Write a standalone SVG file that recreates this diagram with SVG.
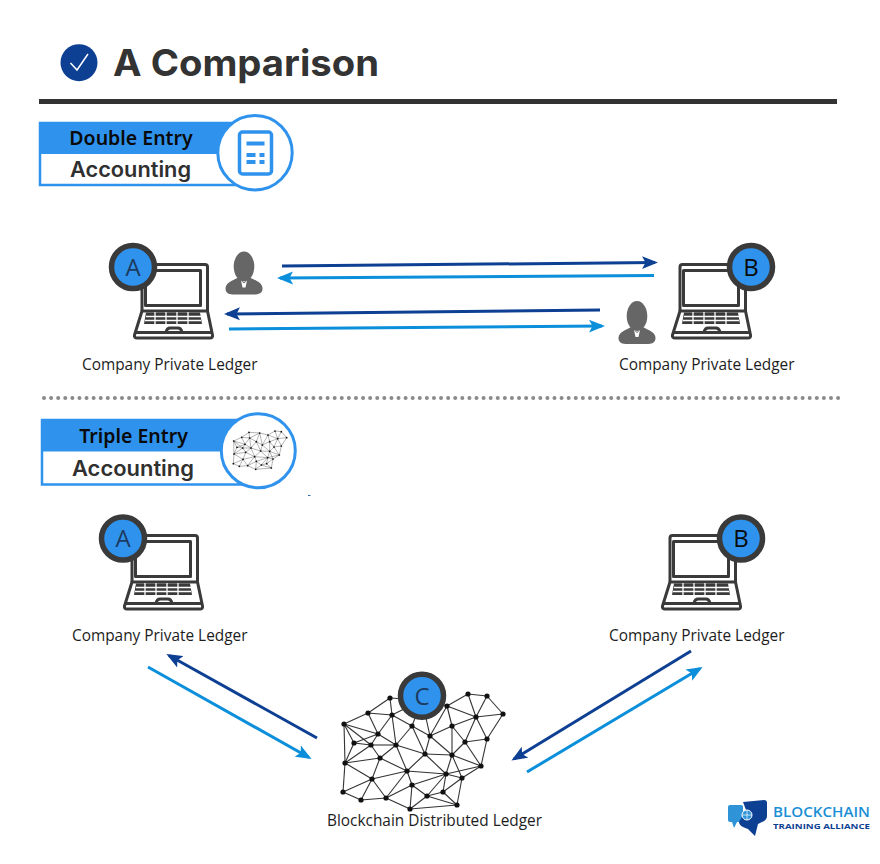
<svg xmlns="http://www.w3.org/2000/svg" width="880" height="864" viewBox="0 0 880 864">
<style>
.lbl{font-family:"Open Sans","Liberation Sans",sans-serif;font-size:15.4px;fill:#1d1d1d}
.head{font-family:"Noto Sans","Open Sans",sans-serif;font-size:19.5px;font-weight:600;fill:#0a0a0a;text-anchor:middle}
.acc{font-family:Inter,"Open Sans",sans-serif;font-size:21px;font-weight:600;fill:#303030;text-anchor:middle}
.let{font-family:"Open Sans","Liberation Sans",sans-serif;font-size:24px;text-anchor:middle}
.ring{fill:#2f93ee;stroke:#3a3a3a;stroke-width:5.5}
.dark{stroke:#0d3f92;stroke-width:3;fill:none}
.light{stroke:#0b8fdb;stroke-width:3;fill:none}
.lap{fill:none;stroke:#3a3a3a;stroke-width:3;stroke-linejoin:round}
.person{fill:#666}
#mesh line{stroke:#333;stroke-width:1.1}
#mesh circle{fill:#111}
</style>
<defs>
<marker id="ad" markerUnits="userSpaceOnUse" markerWidth="17" markerHeight="14" refX="13" refY="7" orient="auto"><path d="M0 .5L16 7L0 13.500L3.500 7Z" fill="#0d3f92"/></marker>
<marker id="al" markerUnits="userSpaceOnUse" markerWidth="17" markerHeight="14" refX="13" refY="7" orient="auto"><path d="M0 .5L16 7L0 13.500L3.500 7Z" fill="#0b8fdb"/></marker>
<symbol id="laptop" overflow="visible" width="80" height="78">
<path class="lap" d="M8 48V4Q8 1.500 10.500 1.500H71Q73.500 1.500 73.500 4V49"/>
<rect class="lap" x="11.500" y="7.500" width="55" height="35"/>
<path class="lap" d="M8 48H73.500L78.500 72Q79 75 76 75H3Q0 75 .5 72Z"/>
<path d="M12 49.500H66L68 61H10Z" fill="#3a3a3a"/>
<path d="M12 53.500H67M11 57.500H67M21 49V61M32 49V61M43 49V61M54 49V61" stroke="#fff" stroke-width="1.300"/>
<path class="lap" stroke-width="2" d="M32 69Q33 65 36 65H44Q47 65 48 69M1 69.500H78"/>
</symbol>
<symbol id="person" overflow="visible" width="38" height="44">
<ellipse cx="18.500" cy="15" rx="10.300" ry="15"/>
<path d="M0 37C0 31 7 29 13 26L18.500 31L24 26C30 29 37 31 37 37C37 42 33 43 28 43H9C4 43 0 42 0 37Z"/>
<path d="M15.500 29L18.500 32L21.500 29L20 36H17Z" fill="#fff"/>
</symbol>
<g id="mesh">
<line x1="344" y1="724" x2="368" y2="713"/><line x1="368" y1="713" x2="390" y2="698"/><line x1="390" y1="698" x2="392" y2="715"/><line x1="368" y1="713" x2="392" y2="715"/><line x1="392" y1="715" x2="412" y2="726"/><line x1="392" y1="715" x2="422" y2="700"/><line x1="390" y1="698" x2="422" y2="700"/><line x1="422" y1="700" x2="447" y2="706"/><line x1="422" y1="700" x2="412" y2="726"/><line x1="422" y1="700" x2="430" y2="736"/><line x1="368" y1="713" x2="378" y2="734"/><line x1="392" y1="715" x2="378" y2="734"/><line x1="392" y1="715" x2="396" y2="745"/><line x1="412" y1="726" x2="396" y2="745"/><line x1="412" y1="726" x2="430" y2="736"/><line x1="412" y1="726" x2="425" y2="754"/><line x1="430" y1="736" x2="447" y2="706"/><line x1="447" y1="706" x2="468" y2="694"/><line x1="468" y1="694" x2="487" y2="696"/><line x1="487" y1="696" x2="503" y2="714"/><line x1="468" y1="694" x2="476" y2="717"/><line x1="487" y1="696" x2="476" y2="717"/><line x1="503" y1="714" x2="476" y2="717"/><line x1="503" y1="714" x2="487" y2="739"/><line x1="476" y1="717" x2="487" y2="739"/><line x1="476" y1="717" x2="452" y2="726"/><line x1="476" y1="717" x2="447" y2="706"/><line x1="476" y1="717" x2="465" y2="742"/><line x1="447" y1="706" x2="452" y2="726"/><line x1="452" y1="726" x2="430" y2="736"/><line x1="452" y1="726" x2="465" y2="742"/><line x1="452" y1="726" x2="452" y2="755"/><line x1="430" y1="736" x2="425" y2="754"/><line x1="430" y1="736" x2="452" y2="755"/><line x1="465" y1="742" x2="487" y2="739"/><line x1="465" y1="742" x2="452" y2="755"/><line x1="465" y1="742" x2="481" y2="766"/><line x1="487" y1="739" x2="481" y2="766"/><line x1="452" y1="755" x2="481" y2="766"/><line x1="452" y1="755" x2="425" y2="754"/><line x1="452" y1="755" x2="446" y2="774"/><line x1="452" y1="755" x2="462" y2="778"/><line x1="425" y1="754" x2="396" y2="745"/><line x1="425" y1="754" x2="407" y2="771"/><line x1="425" y1="754" x2="446" y2="774"/><line x1="481" y1="766" x2="446" y2="774"/><line x1="481" y1="766" x2="462" y2="778"/><line x1="446" y1="774" x2="462" y2="778"/><line x1="446" y1="774" x2="407" y2="771"/><line x1="446" y1="774" x2="412" y2="785"/><line x1="446" y1="774" x2="443" y2="792"/><line x1="446" y1="774" x2="427" y2="796"/><line x1="462" y1="778" x2="443" y2="792"/><line x1="462" y1="778" x2="457" y2="805"/><line x1="443" y1="792" x2="427" y2="796"/><line x1="443" y1="792" x2="457" y2="805"/><line x1="427" y1="796" x2="457" y2="805"/><line x1="427" y1="796" x2="412" y2="785"/><line x1="427" y1="796" x2="410" y2="809"/><line x1="457" y1="805" x2="410" y2="809"/><line x1="412" y1="785" x2="407" y2="771"/><line x1="412" y1="785" x2="386" y2="798"/><line x1="412" y1="785" x2="410" y2="809"/><line x1="386" y1="798" x2="410" y2="809"/><line x1="386" y1="798" x2="361" y2="800"/><line x1="386" y1="798" x2="372" y2="779"/><line x1="386" y1="798" x2="407" y2="771"/><line x1="361" y1="800" x2="343" y2="792"/><line x1="361" y1="800" x2="372" y2="779"/><line x1="343" y1="792" x2="372" y2="779"/><line x1="343" y1="792" x2="345" y2="763"/><line x1="345" y1="763" x2="372" y2="779"/><line x1="345" y1="763" x2="380" y2="758"/><line x1="345" y1="763" x2="371" y2="745"/><line x1="345" y1="763" x2="354" y2="743"/><line x1="345" y1="763" x2="344" y2="724"/><line x1="344" y1="724" x2="354" y2="743"/><line x1="344" y1="724" x2="371" y2="745"/><line x1="344" y1="724" x2="378" y2="734"/><line x1="354" y1="743" x2="371" y2="745"/><line x1="354" y1="743" x2="378" y2="734"/><line x1="378" y1="734" x2="371" y2="745"/><line x1="378" y1="734" x2="396" y2="745"/><line x1="371" y1="745" x2="396" y2="745"/><line x1="371" y1="745" x2="380" y2="758"/><line x1="396" y1="745" x2="380" y2="758"/><line x1="396" y1="745" x2="407" y2="771"/><line x1="380" y1="758" x2="372" y2="779"/><line x1="380" y1="758" x2="407" y2="771"/><line x1="372" y1="779" x2="407" y2="771"/>
<circle r="2.600" cx="344" cy="724"/><circle r="2.600" cx="368" cy="713"/><circle r="2.600" cx="390" cy="698"/><circle r="2.600" cx="392" cy="715"/><circle r="2.600" cx="422" cy="700"/><circle r="2.600" cx="412" cy="726"/><circle r="2.600" cx="447" cy="706"/><circle r="2.600" cx="468" cy="694"/><circle r="2.600" cx="487" cy="696"/><circle r="2.600" cx="503" cy="714"/><circle r="2.600" cx="476" cy="717"/><circle r="2.600" cx="452" cy="726"/><circle r="2.600" cx="430" cy="736"/><circle r="2.600" cx="378" cy="734"/><circle r="2.600" cx="354" cy="743"/><circle r="2.600" cx="371" cy="745"/><circle r="2.600" cx="396" cy="745"/><circle r="2.600" cx="487" cy="739"/><circle r="2.600" cx="465" cy="742"/><circle r="2.600" cx="452" cy="755"/><circle r="2.600" cx="425" cy="754"/><circle r="2.600" cx="380" cy="758"/><circle r="2.600" cx="345" cy="763"/><circle r="2.600" cx="481" cy="766"/><circle r="2.600" cx="407" cy="771"/><circle r="2.600" cx="446" cy="774"/><circle r="2.600" cx="462" cy="778"/><circle r="2.600" cx="372" cy="779"/><circle r="2.600" cx="412" cy="785"/><circle r="2.600" cx="443" cy="792"/><circle r="2.600" cx="427" cy="796"/><circle r="2.600" cx="343" cy="792"/><circle r="2.600" cx="361" cy="800"/><circle r="2.600" cx="386" cy="798"/><circle r="2.600" cx="410" cy="809"/><circle r="2.600" cx="457" cy="805"/>
</g>
</defs>
<rect width="880" height="864" fill="#fff"/>

<g id="title">
<circle cx="79" cy="62.700" r="18.500" fill="#0d3f92"/>
<path d="M70.500 63L77 70L88 54" fill="none" stroke="#fff" stroke-width="1.500"/>
<text x="113" y="76" font-family="Inter,'Open Sans',sans-serif" font-size="37" font-weight="700" fill="#333" textLength="266" lengthAdjust="spacingAndGlyphs">A Comparison</text>
<rect x="39" y="99" width="798" height="5" fill="#333"/>
</g>

<g id="double-entry-badge">
<rect x="40" y="123" width="200" height="62" fill="#fff" stroke="#2f93ee" stroke-width="2.500"/>
<rect x="39" y="122" width="200" height="32" fill="#2f93ee"/>
<text class="head" x="131" y="145">Double Entry</text>
<text class="acc" x="130.500" y="177" textLength="121" lengthAdjust="spacingAndGlyphs">Accounting</text>
<circle cx="255" cy="152.700" r="37.200" fill="#fff" stroke="#2f93ee" stroke-width="3"/>
<rect x="239.500" y="132" width="32" height="42" rx="3" fill="none" stroke="#2f93ee" stroke-width="3.500"/>
<path d="M246.500 141.500H264.500V145.500H246.500ZM246.500 153H255.500V157H246.500ZM259.500 153H264.500V157H259.500ZM246.500 160H255.500V164H246.500ZM259.500 160H264.500V164H259.500Z" fill="#2f93ee"/>
</g>

<g id="triple-entry-badge">
<rect x="42" y="420" width="205" height="64.500" fill="#fff" stroke="#2f93ee" stroke-width="2.500"/>
<rect x="41" y="419" width="205" height="32.500" fill="#2f93ee"/>
<text class="head" x="133.500" y="443">Triple Entry</text>
<text class="acc" x="133" y="475.500" textLength="122" lengthAdjust="spacingAndGlyphs">Accounting</text>
<circle cx="258.300" cy="450.700" r="37" fill="#fff" stroke="#2f93ee" stroke-width="3"/>
<use href="#mesh" transform="translate(233 431) scale(.3333) translate(-342 -694)"/>
<rect x="308" y="495" width="2.500" height="1" fill="#2f6fb0"/>
</g>

<g id="node-a1">
<use href="#laptop" x="134" y="263"/>
<circle class="ring" cx="133" cy="267" r="21.500"/>
<text class="let" x="133" y="276" fill="#1d3a5f">A</text>
<text class="lbl" x="82" y="370">Company Private Ledger</text>
</g>
<g id="node-b1">
<use href="#laptop" x="672" y="263"/>
<circle class="ring" cx="751" cy="267" r="21.500"/>
<text class="let" x="751" y="276" fill="#0a0a0a">B</text>
<text class="lbl" x="619" y="370">Company Private Ledger</text>
</g>
<g id="person-a" class="person"><use href="#person" x="225.500" y="251.500"/></g>
<g id="person-b" class="person"><use href="#person" x="618.500" y="301"/></g>

<g id="divider"><line x1="44" y1="398" x2="839" y2="398" stroke="#8a8a8a" stroke-width="4" stroke-linecap="round" stroke-dasharray="0 7.090"/></g>

<g id="node-a2">
<use href="#laptop" x="124" y="534"/>
<circle class="ring" cx="123" cy="538.500" r="21.500"/>
<text class="let" x="123" y="547" fill="#1d3a5f">A</text>
<text class="lbl" x="72" y="641">Company Private Ledger</text>
</g>
<g id="node-b2">
<use href="#laptop" x="662" y="534"/>
<circle class="ring" cx="741" cy="538.500" r="21.500"/>
<text class="let" x="741" y="547" fill="#0a0a0a">B</text>
<text class="lbl" x="609" y="641">Company Private Ledger</text>
</g>
<g id="node-c">
<use href="#mesh"/>
<circle class="ring" cx="422" cy="695.700" r="21.500"/>
<text class="let" x="422" y="704.500" fill="#1d3a5f">C</text>
<text class="lbl" x="327" y="826">Blockchain Distributed Ledger</text>
</g>

<g id="connectors">
<line class="dark" x1="282" y1="266" x2="655" y2="262.500" marker-end="url(#ad)"/>
<line class="light" x1="654" y1="275.500" x2="280" y2="278" marker-end="url(#al)"/>
<line class="dark" x1="600" y1="310" x2="227" y2="314" marker-end="url(#ad)"/>
<line class="light" x1="229" y1="329" x2="602" y2="326" marker-end="url(#al)"/>
<line class="dark" x1="317" y1="738" x2="169" y2="655.500" marker-end="url(#ad)"/>
<line class="light" x1="148" y1="667" x2="309" y2="757.500" marker-end="url(#al)"/>
<line class="dark" x1="691" y1="651" x2="514" y2="759" marker-end="url(#ad)"/>
<line class="light" x1="527" y1="772" x2="700" y2="668.500" marker-end="url(#al)"/>
</g>

<g id="logo">
<path d="M728 807Q728 805 730 805H741Q743 805 743 807V819C743 821 741 822 739 822H737L734 828L732 822H730Q728 822 728 820Z" fill="#2f93d8"/>
<path d="M743 802L764 800Q767 800 767 803V816Q767 820 762 822L758 824L755 836L748 829C742 827 739 825 739 822L746 810Z" fill="#0d3f92"/>
<circle cx="747" cy="815" r="5" fill="#2f93d8" stroke="#fff" stroke-width="1"/>
<path d="M742 815H752M747 810V820" stroke="#fff" stroke-width=".7"/>
<text x="773" y="817" font-family="'Open Sans','Liberation Sans',sans-serif" font-size="13.500" font-weight="600" fill="#1b8fd6" textLength="97" lengthAdjust="spacingAndGlyphs">BLOCKCHAIN</text>
<text x="773" y="829" font-family="'Open Sans','Liberation Sans',sans-serif" font-size="7.500" font-weight="700" fill="#0d3f92" textLength="97" lengthAdjust="spacingAndGlyphs">TRAINING ALLIANCE</text>
</g>
</svg>
